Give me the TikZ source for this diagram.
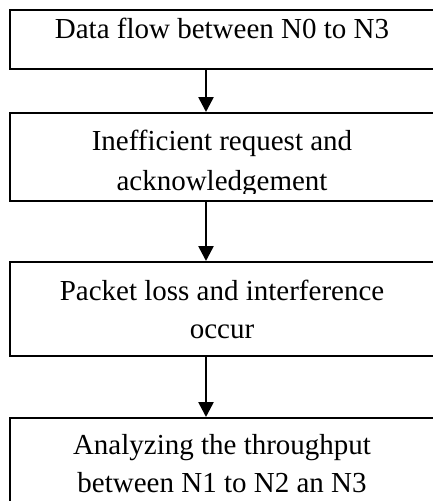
\documentclass[tikz,border=0pt]{standalone}
\usepackage{fontspec}
\setmainfont{Liberation Serif}
\usetikzlibrary{arrows.meta}
\begin{document}
\begin{tikzpicture}[x=1pt,y=-1pt,
  boxstyle/.style={draw=black, line width=2pt, rectangle, minimum width=424pt, inner sep=0pt},
  txt/.style={anchor=base, inner sep=0pt, font=\fontsize{29}{38}\selectfont},
  arr/.style={line width=2.6pt, -{Triangle[width=15pt,length=15pt]}}]
\useasboundingbox (0,0) rectangle (432,501);
\node[boxstyle, minimum height=59pt] (b1) at (222,39.5) {};
\node[boxstyle, minimum height=88pt] (b2) at (222,157) {};
\node[boxstyle, minimum height=94pt] (b3) at (222,309) {};
\node[boxstyle, minimum height=92pt] (b4) at (222,464) {};
\node[txt] (t1) at (222,38) {Data flow between N0 to N3};
\begin{scope}
\clip (10,113) rectangle (434,193);
\node[txt] (t2a) at (222,150.5) {Inefficient request and};
\node[txt] (t2b) at (222,190) {acknowledgement};
\end{scope}
\node[txt] (t3a) at (222,300.5) {Packet loss and interference};
\node[txt] (t3b) at (222,338.5) {occur};
\node[txt] (t4a) at (222,454) {Analyzing the throughput};
\node[txt] (t4b) at (222,492) {between N1 to N2 an N3};
\coordinate (ax) at (206,0);
\draw[arr] (b1.south -| ax) -- (b2.north -| ax);
\draw[arr] (b2.south -| ax) -- (b3.north -| ax);
\draw[arr] (b3.south -| ax) -- (b4.north -| ax);
\end{tikzpicture}
\end{document}
